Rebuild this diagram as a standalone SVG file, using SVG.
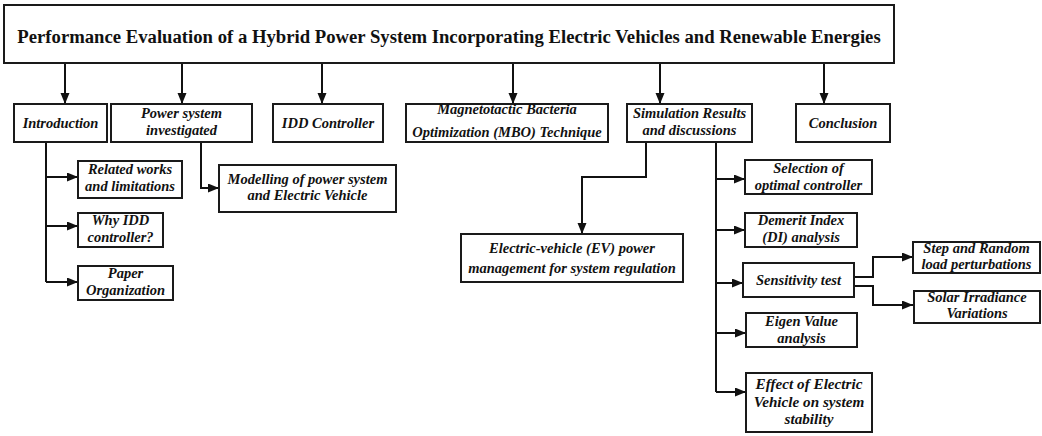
<svg xmlns="http://www.w3.org/2000/svg" width="1042" height="436" viewBox="0 0 1042 436">
<defs>
<style>
.b{fill:#fff;stroke:#1a1a1a;stroke-width:2}
.t{font-family:"Liberation Serif","Times New Roman",serif;font-weight:bold;font-style:italic;font-size:14.5px;fill:#111;text-anchor:middle}
.h{font-family:"Liberation Serif","Times New Roman",serif;font-weight:bold;font-size:18.7px;fill:#111;text-anchor:middle}
.c{fill:none;stroke:#111;stroke-width:2}
</style>
<marker id="a" markerUnits="userSpaceOnUse" markerWidth="12" markerHeight="10" refX="11" refY="4.5" orient="auto">
<path d="M0,0 L11,4.5 L0,9 z" fill="#111"/>
</marker>
</defs>
<rect width="1042" height="436" fill="#fff"/>
<g id="connectors">
<path class="c" marker-end="url(#a)" d="M65,64 V104"/>
<path class="c" marker-end="url(#a)" d="M182,64 V104"/>
<path class="c" marker-end="url(#a)" d="M322,64 V104"/>
<path class="c" marker-end="url(#a)" d="M513,64 V104"/>
<path class="c" marker-end="url(#a)" d="M660,64 V104"/>
<path class="c" marker-end="url(#a)" d="M824,64 V104"/>
<path class="c" d="M46,142 V282"/>
<path class="c" marker-end="url(#a)" d="M46,177 H78"/>
<path class="c" marker-end="url(#a)" d="M46,226 H78"/>
<path class="c" marker-end="url(#a)" d="M46,282 H78"/>
<path class="c" marker-end="url(#a)" d="M201,142 V188 H219"/>
<path class="c" marker-end="url(#a)" d="M646,142 V177 H582 V234"/>
<path class="c" d="M716,142 V392"/>
<path class="c" marker-end="url(#a)" d="M716,179 H745"/>
<path class="c" marker-end="url(#a)" d="M716,230 H745"/>
<path class="c" marker-end="url(#a)" d="M716,283 H743"/>
<path class="c" marker-end="url(#a)" d="M716,333 H746"/>
<path class="c" marker-end="url(#a)" d="M716,392 H746"/>
<path class="c" marker-end="url(#a)" d="M854,277 H873 V257 H913"/>
<path class="c" marker-end="url(#a)" d="M854,286 H873 V305 H913"/>
</g>
<g id="title"><rect class="b" x="4" y="5" width="890" height="58"/><text class="h" x="449" y="43">Performance Evaluation of a Hybrid Power System Incorporating Electric Vehicles and Renewable Energies</text></g>
<g id="introduction"><rect class="b" x="14" y="104" width="93" height="38"/><text class="t" x="60.5" y="128">Introduction</text></g>
<g id="power-system"><rect class="b" x="111" y="104" width="141" height="38"/><text class="t" x="181.5" y="118">Power system</text><text class="t" x="181.5" y="135">investigated</text></g>
<g id="idd"><rect class="b" x="273" y="104" width="110" height="38"/><text class="t" x="328" y="128">IDD Controller</text></g>
<g id="mbo"><rect class="b" x="406" y="104" width="202" height="38"/><text class="t" x="507" y="114">Magnetotactic Bacteria</text><text class="t" x="507" y="137">Optimization (MBO) Technique</text></g>
<g id="simulation"><rect class="b" x="627" y="104" width="125" height="38"/><text class="t" x="689.5" y="118">Simulation Results</text><text class="t" x="689.5" y="135">and discussions</text></g>
<g id="conclusion"><rect class="b" x="796" y="104" width="94" height="38"/><text class="t" x="843" y="128">Conclusion</text></g>
<g id="related"><rect class="b" x="78" y="161" width="104" height="37"/><text class="t" x="130" y="174">Related works</text><text class="t" x="130" y="191">and limitations</text></g>
<g id="why-idd"><rect class="b" x="78" y="213" width="85" height="34"/><text class="t" x="120.5" y="225">Why IDD</text><text class="t" x="120.5" y="242">controller?</text></g>
<g id="paper-org"><rect class="b" x="78" y="266" width="95" height="34"/><text class="t" x="125.5" y="278">Paper</text><text class="t" x="125.5" y="295">Organization</text></g>
<g id="modelling"><rect class="b" x="219" y="165" width="177" height="47"/><text class="t" x="307.5" y="184">Modelling of power system</text><text class="t" x="307.5" y="200">and  Electric Vehicle</text></g>
<g id="ev-power"><rect class="b" x="461" y="234" width="222" height="48"/><text class="t" x="572" y="253">Electric-vehicle (EV) power</text><text class="t" x="572" y="273">management for system regulation</text></g>
<g id="selection"><rect class="b" x="745" y="160" width="127" height="34"/><text class="t" x="808.5" y="173">Selection of</text><text class="t" x="808.5" y="190">optimal controller</text></g>
<g id="demerit"><rect class="b" x="745" y="213" width="112" height="34"/><text class="t" x="801" y="225">Demerit Index</text><text class="t" x="801" y="242">(DI) analysis</text></g>
<g id="sensitivity"><rect class="b" x="743" y="263" width="111" height="34"/><text class="t" x="798.5" y="285">Sensitivity test</text></g>
<g id="eigen"><rect class="b" x="746" y="313" width="111" height="34"/><text class="t" x="801.5" y="326">Eigen Value</text><text class="t" x="801.5" y="343">analysis</text></g>
<g id="effect-ev"><rect class="b" x="746" y="373" width="126" height="59"/><text class="t" x="809" y="389" style="font-size:15.2px">Effect of Electric</text><text class="t" x="809" y="407" style="font-size:15.2px">Vehicle on system</text><text class="t" x="809" y="424" style="font-size:15.2px">stability</text></g>
<g id="step-random"><rect class="b" x="913" y="242" width="127" height="31"/><text class="t" x="976.5" y="253">Step and Random</text><text class="t" x="976.5" y="269">load perturbations</text></g>
<g id="solar"><rect class="b" x="914" y="291" width="126" height="32"/><text class="t" x="977" y="302">Solar Irradiance</text><text class="t" x="977" y="318">Variations</text></g>
</svg>
